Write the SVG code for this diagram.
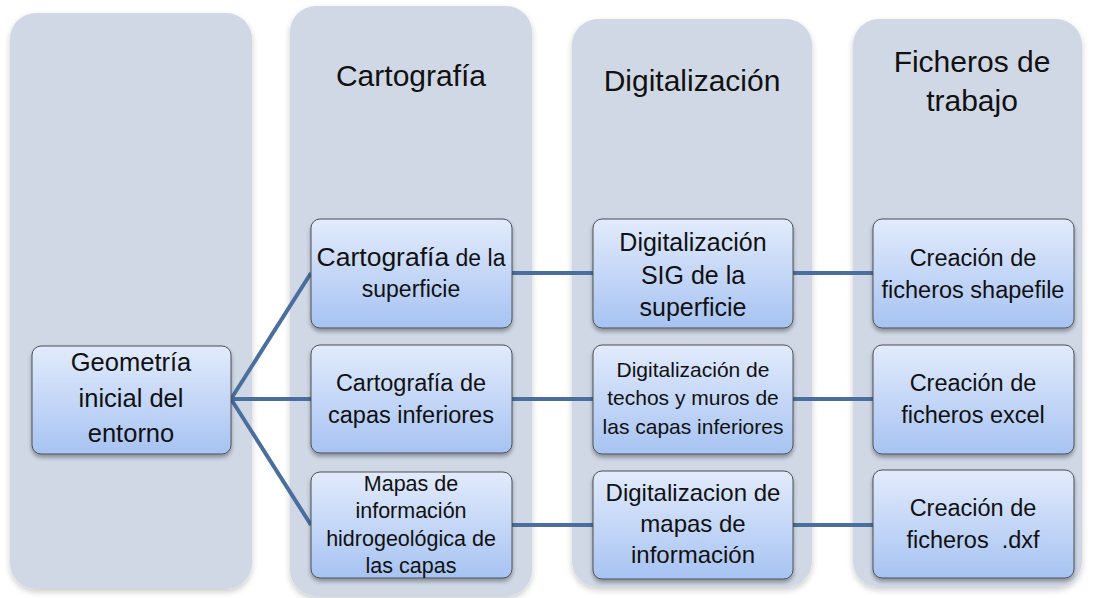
<svg xmlns="http://www.w3.org/2000/svg" width="1093" height="598" viewBox="0 0 1093 598">
<defs>
<linearGradient id="bx" x1="0" y1="0" x2="0" y2="1">
<stop offset="0" stop-color="#e2ebfc"/>
<stop offset="1" stop-color="#a7c3f2"/>
</linearGradient>
<filter id="sh" x="-10%" y="-10%" width="120%" height="125%">
<feGaussianBlur in="SourceAlpha" stdDeviation="2"/>
<feOffset dx="0" dy="3" result="b"/>
<feComponentTransfer><feFuncA type="linear" slope="0.35"/></feComponentTransfer>
<feMerge><feMergeNode/><feMergeNode in="SourceGraphic"/></feMerge>
</filter>
<filter id="csh" x="-5%" y="-5%" width="110%" height="110%">
<feGaussianBlur in="SourceAlpha" stdDeviation="3"/>
<feOffset dx="0" dy="3" result="b"/>
<feComponentTransfer><feFuncA type="linear" slope="0.2"/></feComponentTransfer>
<feMerge><feMergeNode/><feMergeNode in="SourceGraphic"/></feMerge>
</filter>
</defs>
<style>
.col{fill:#d0d8e6;filter:url(#csh)}
.box{fill:url(#bx);stroke:#4d4f55;stroke-width:1;filter:url(#sh)}
.hd{font-family:"Liberation Sans",Arial,sans-serif;font-size:30px;fill:#111;text-anchor:middle}
.t{font-family:"Liberation Sans",Arial,sans-serif;fill:#111;text-anchor:middle}
.con{stroke:#4a6f9f;stroke-width:4;fill:none}
</style>
<rect width="1093" height="598" fill="#ffffff"/>
<g id="columns">
<rect class="col" x="10" y="13" width="242" height="576" rx="26"/>
<rect class="col" x="290" y="6" width="242" height="590" rx="26"/>
<rect class="col" x="572" y="19" width="240" height="568" rx="26"/>
<rect class="col" x="853" y="19" width="229" height="568" rx="26"/>
</g>
<g id="headers">
<text class="hd" x="411" y="86">Cartografía</text>
<text class="hd" x="692" y="91">Digitalización</text>
<text class="hd" x="972" y="72">Ficheros de</text>
<text class="hd" x="972" y="111">trabajo</text>
</g>
<g id="connectors">
<path class="con" d="M231 399 L311 273 M231 399 L311 399 M231 399 L311 525"/>
<path class="con" d="M512 273 H593 M512 399 H593 M512 525 H593"/>
<path class="con" d="M793 273 H873 M793 399 H873 M793 525 H873"/>
</g>
<g id="n-geometria">
<rect class="box" x="32" y="346" width="199" height="108" rx="9"/>
<text class="t" font-size="25.5"><tspan x="131" y="371">Geometría</tspan><tspan x="131" y="407">inicial del</tspan><tspan x="131" y="442">entorno</tspan></text>
</g>
<g id="n-cart-sup">
<rect class="box" x="311" y="219" width="201" height="109" rx="9"/>
<text class="t" font-size="23"><tspan x="411" y="266"><tspan font-size="26.5">Cartografía</tspan> de la</tspan><tspan x="411" y="297">superficie</tspan></text>
</g>
<g id="n-cart-inf">
<rect class="box" x="311" y="345" width="201" height="108" rx="9"/>
<text class="t" font-size="23.5"><tspan x="411" y="391">Cartografía de</tspan><tspan x="411" y="423">capas inferiores</tspan></text>
</g>
<g id="n-mapas">
<rect class="box" x="311" y="472" width="201" height="106" rx="9"/>
<text class="t" font-size="21.5"><tspan x="411" y="491">Mapas de</tspan><tspan x="411" y="518">información</tspan><tspan x="411" y="546">hidrogeológica de</tspan><tspan x="411" y="573">las capas</tspan></text>
</g>
<g id="n-dig-sup">
<rect class="box" x="593" y="219" width="200" height="109" rx="9"/>
<text class="t" font-size="25"><tspan x="693" y="251">Digitalización</tspan><tspan x="693" y="284">SIG de la</tspan><tspan x="693" y="316">superficie</tspan></text>
</g>
<g id="n-dig-inf">
<rect class="box" x="593" y="345" width="200" height="109" rx="9"/>
<text class="t" font-size="21"><tspan x="693" y="377">Digitalización de</tspan><tspan x="693" y="405">techos y muros de</tspan><tspan x="693" y="434">las capas inferiores</tspan></text>
</g>
<g id="n-dig-mapas">
<rect class="box" x="593" y="471" width="200" height="108" rx="9"/>
<text class="t" font-size="24"><tspan x="693" y="501">Digitalizacion de</tspan><tspan x="693" y="532">mapas de</tspan><tspan x="693" y="563">información</tspan></text>
</g>
<g id="n-shape">
<rect class="box" x="873" y="219" width="201" height="109" rx="9"/>
<text class="t" font-size="23.5"><tspan x="973" y="266">Creación de</tspan><tspan x="973" y="298">ficheros shapefile</tspan></text>
</g>
<g id="n-excel">
<rect class="box" x="873" y="345" width="201" height="109" rx="9"/>
<text class="t" font-size="23.5"><tspan x="973" y="391">Creación de</tspan><tspan x="973" y="423">ficheros excel</tspan></text>
</g>
<g id="n-dxf">
<rect class="box" x="873" y="470" width="201" height="108" rx="9"/>
<text class="t" font-size="23.5"><tspan x="973" y="516">Creación de</tspan><tspan x="973" y="548">ficheros &#160;.dxf</tspan></text>
</g>
</svg>
